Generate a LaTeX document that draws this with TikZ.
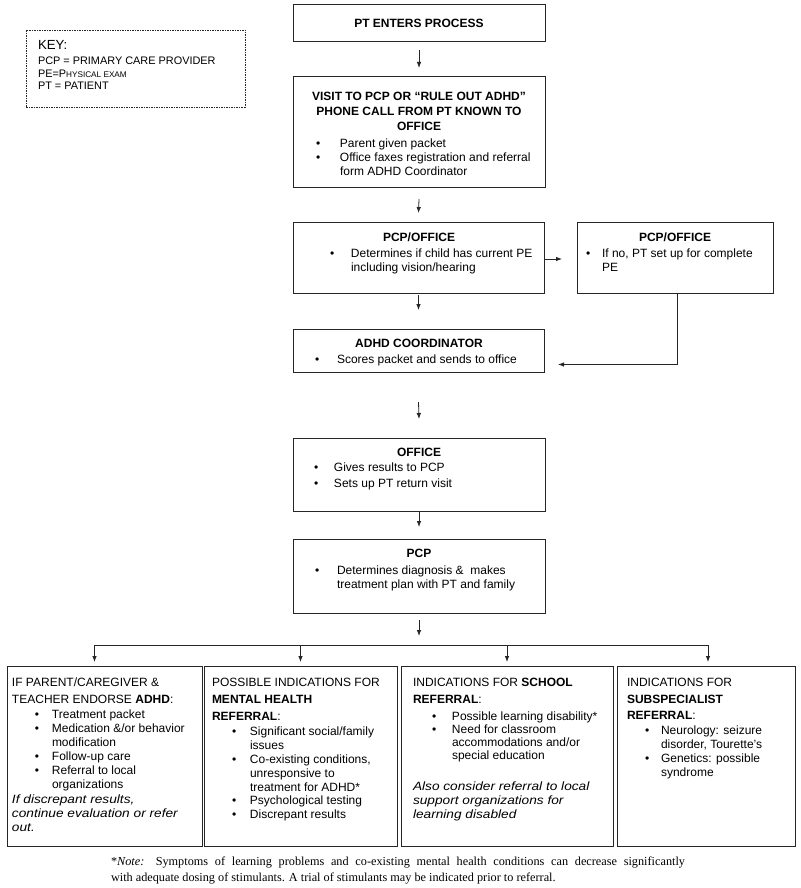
\documentclass[tikz,border=0pt]{standalone}
\usepackage{fontspec}
\setmainfont{Liberation Serif}
\setsansfont{Liberation Sans}
\newfontfamily\wideit{Liberation Sans}[FakeStretch=1.14]
\usetikzlibrary{arrows.meta}
\newcommand\bu[1]{\makebox[#1][l]{\textbullet}}
\newcommand\st[1]{\rule{0pt}{#1pt}}
\newcommand\wi[1]{{\wideit\itshape #1}}
\newcommand\fsT{\sffamily\bfseries\fontsize{12}{15}\selectfont}
\newcommand\fsA{\sffamily\fontsize{12}{14}\selectfont}
\newcommand\fsB{\sffamily\fontsize{12}{14}\selectfont}
\begin{document}
\begin{tikzpicture}[x=1pt,y=-1pt,
  box/.style={draw=black!85, line width=1pt, inner sep=0pt, outer sep=0pt, anchor=north west},
  keybox/.style={box, dash pattern=on 1.5pt off 1pt, line width=0.8pt},
  ttl/.style={inner sep=0pt, outer sep=0pt, font=\fsT, align=center, anchor=north},
  body/.style={inner sep=0pt, outer sep=0pt, font=\fsA, align=left, anchor=north west},
  lowbody/.style={inner sep=0pt, outer sep=0pt, font=\fsB, align=left, anchor=north west},
  keytxt/.style={inner sep=0pt, outer sep=0pt, anchor=west, font=\sffamily\fontsize{10.9}{12}\selectfont},
  arr/.style={draw=black!85, line width=0.8pt, -{Latex[length=6pt,width=4.5pt]}},
  ln/.style={draw=black!85, line width=0.8pt}]
\useasboundingbox[fill=white] (0,0) rectangle (800,888);

% key
\node[keybox, minimum width=219pt, minimum height=77pt] (key) at (26,30) {};
\node[keytxt, font=\sffamily\fontsize{13.2}{14}\selectfont] (keyT) at (38,45) {KEY:};
\node[keytxt] (k1) at (38,61) {PCP = PRIMARY CARE PROVIDER};
\node[keytxt] (k2) at (38,73.5) {PE=P{\fontsize{8.2}{9}\selectfont HYSICAL EXAM}};
\node[keytxt] (k3) at (38,86) {PT = PATIENT};

% top column
\node[box, minimum width=252pt, minimum height=37pt, font=\fsT] (pt) at (293,5) {PT ENTERS PROCESS};

\node[box, minimum width=252pt, minimum height=110pt] (visit) at (293,77) {};
\node[ttl] (visitT) at (419,89) {\st{12}VISIT TO PCP OR “RULE OUT ADHD”\\PHONE CALL FROM PT KNOWN TO\\OFFICE};
\node[body] (visitB) at (316,135.6) {\st{12}\bu{24pt}Parent given packet\\
  \bu{24pt}Office faxes registration and referral\\
  \hspace*{24pt}form ADHD Coordinator};

\node[box, minimum width=251pt, minimum height=71pt] (pcpo1) at (293,222) {};
\node[ttl] (pcpo1T) at (419,229.6) {\st{12}PCP/OFFICE};
\node[body] (pcpo1B) at (330,245.6) {\st{12}\bu{21pt}Determines if child has current PE\\
  \hspace*{21pt}including vision/hearing};

\node[box, minimum width=196pt, minimum height=71pt] (pcpo2) at (577,222) {};
\node[ttl] (pcpo2T) at (675,229.6) {\st{12}PCP/OFFICE};
\node[body] (pcpo2B) at (586,245.6) {\st{12}\bu{16pt}If no, PT set up for complete\\
  \hspace*{16pt}PE};

\node[box, minimum width=251pt, minimum height=43pt] (adhd) at (293,329) {};
\node[ttl] (adhdT) at (419,335.6) {\st{12}ADHD COORDINATOR};
\node[body] (adhdB) at (315,351.6) {\st{12}\bu{22pt}Scores packet and sends to office};

\node[box, minimum width=252pt, minimum height=73pt] (office) at (293,438) {};
\node[ttl] (officeT) at (419,444.6) {\st{12}OFFICE};
\node[body, font=\sffamily\fontsize{12}{16}\selectfont] (officeB) at (314,459.6) {\st{12}\bu{20pt}Gives results to PCP\\
  \bu{20pt}Sets up PT return visit};

\node[box, minimum width=252pt, minimum height=74pt] (pcp) at (293,539) {};
\node[ttl] (pcpT) at (419,545.6) {\st{12}PCP};
\node[body] (pcpB) at (315,562.6) {\st{12}\bu{22pt}Determines diagnosis \&\ \ makes\\
  \hspace*{22pt}treatment plan with PT and family};

% bottom row
\node[box, minimum width=195pt, minimum height=180pt] (b1) at (7,666) {};
\node[lowbody] (b1B) at (12,674.3) {\st{12}IF PARENT/CAREGIVER \&\\[3pt]
  TEACHER ENDORSE \textbf{ADHD}:\\[1pt]
  \hspace*{23pt}\bu{17pt}Treatment packet\\
  \hspace*{23pt}\bu{17pt}Medication \&/or behavior\\
  \hspace*{40pt}modification\\
  \hspace*{23pt}\bu{17pt}Follow-up care\\
  \hspace*{23pt}\bu{17pt}Referral to local\\
  \hspace*{40pt}organizations\\[1pt]
  \wi{If discrepant results,}\\
  \wi{continue evaluation or refer}\\
  \wi{out.}};

\node[box, minimum width=193pt, minimum height=180pt] (b2) at (204,666) {};
\node[lowbody] (b2B) at (212,674.3) {\st{12}POSSIBLE INDICATIONS FOR\\[3pt]
  \textbf{MENTAL HEALTH}\\[3pt]
  \textbf{REFERRAL}:\\[1pt]
  \hspace*{20pt}\bu{18pt}Significant social/family\\
  \hspace*{38pt}issues\\
  \hspace*{20pt}\bu{18pt}Co-existing conditions,\\
  \hspace*{38pt}unresponsive to\\
  \hspace*{38pt}treatment for ADHD*\\[-1pt]
  \hspace*{20pt}\bu{18pt}Psychological testing\\
  \hspace*{20pt}\bu{18pt}Discrepant results};

\node[box, minimum width=212pt, minimum height=180pt] (b3) at (401,666) {};
\node[lowbody] (b3B) at (413,674.3) {\st{12}INDICATIONS FOR \textbf{SCHOOL}\\[3pt]
  \textbf{REFERRAL}:\\[3pt]
  \hspace*{19pt}\bu{20pt}Possible learning disability*\\[-1pt]
  \hspace*{19pt}\bu{20pt}Need for classroom\\[-1pt]
  \hspace*{39pt}accommodations and/or\\[-1pt]
  \hspace*{39pt}special education\\[17pt]
  \wi{Also consider referral to local}\\
  \wi{support organizations for}\\
  \wi{learning disabled}};

\node[box, minimum width=178pt, minimum height=180pt] (b4) at (617,666) {};
\node[lowbody] (b4B) at (627,674.3) {\st{12}INDICATIONS FOR\\[3pt]
  \textbf{SUBSPECIALIST}\\[2pt]
  \textbf{REFERRAL}:\\[1pt]
  \hspace*{18pt}\bu{16pt}Neurology: seizure\\
  \hspace*{34pt}disorder, Tourette's\\
  \hspace*{18pt}\bu{16pt}Genetics: possible\\
  \hspace*{34pt}syndrome};

% note
\node[inner sep=0pt, outer sep=0pt, anchor=north west, align=left, font=\rmfamily\fontsize{12.25}{16}\selectfont] (note) at (111,853)
  {\st{12}\makebox[574pt][s]{*\textit{Note:} Symptoms of learning problems and co-existing mental health conditions can decrease significantly}\\
   with adequate dosing of stimulants. A trial of stimulants may be indicated prior to referral.};

% connectors
\draw[arr] ([yshift=-8pt]pt.south) -- ([yshift=9pt]visit.north);
\draw[arr] ([yshift=-12pt]visit.south) -- ([yshift=9pt]pcpo1.north);
\coordinate (a3end) at ([xshift=18pt,yshift=-1.5pt]pcpo1.east);
\draw[arr] ([yshift=-1.5pt]pcpo1.east) -- (a3end);
\draw[arr] ([yshift=-2pt]pcpo1.south) -- ([yshift=19pt]adhd.north);
\coordinate (a5end) at ([xshift=14pt,yshift=-14pt]adhd.east);
\draw[arr] ([xshift=2pt]pcpo2.south) |- (a5end);
\draw[arr] ([yshift=-30pt]adhd.south) -- ([yshift=19pt]office.north);
\draw[arr] ([yshift=-1pt]office.south) -- ([yshift=12pt]pcp.north);
\coordinate (a8end) at ([yshift=-23pt]pcp.south);
\draw[arr] ([yshift=-7pt]pcp.south) -- (a8end);
\coordinate (j1) at ([xshift=-10pt,yshift=21pt]b1.north);
\coordinate (j4) at ([xshift=2pt,yshift=21pt]b4.north);
\draw[ln] (j1) -- (j4);
\draw[arr] (j1) -- ([xshift=-10pt,yshift=4pt]b1.north);
\draw[arr] (j1 -| b2.north) -- ([yshift=4pt]b2.north);
\draw[arr] (j1 -| b3.north) -- ([yshift=4pt]b3.north);
\draw[arr] (j4) -- ([xshift=2pt,yshift=4pt]b4.north);
\end{tikzpicture}
\end{document}
